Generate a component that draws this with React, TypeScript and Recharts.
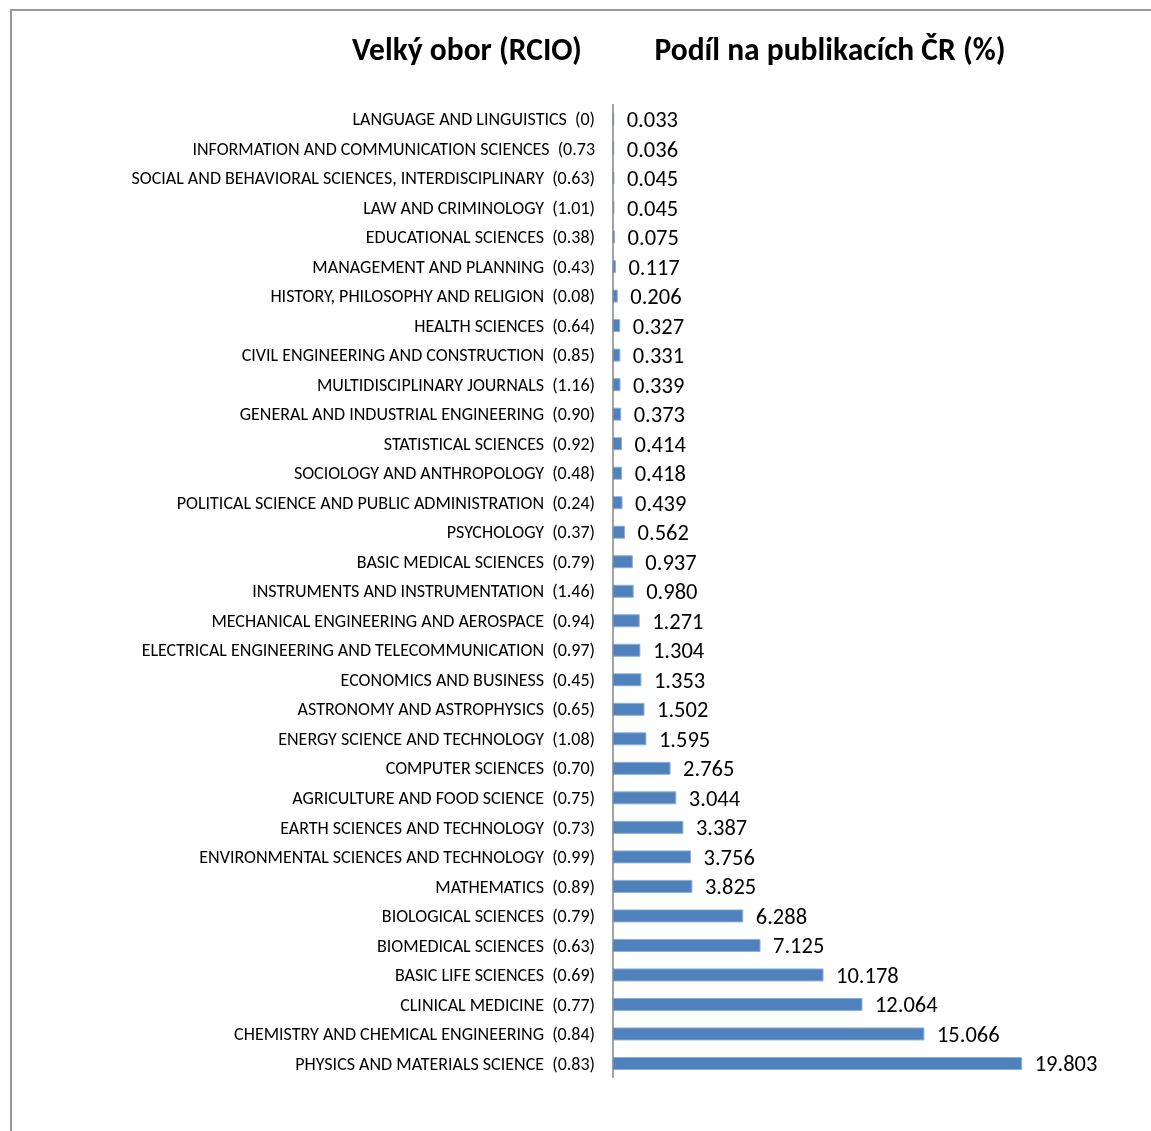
import { BarChart, Bar, XAxis, YAxis, LabelList } from 'recharts';

// double gap before the bracket is kept with a no-break space
const fields = [
  'LANGUAGE AND LINGUISTICS\u00a0\u00a0(0)',
  'INFORMATION AND COMMUNICATION SCIENCES\u00a0\u00a0(0.73',
  'SOCIAL AND BEHAVIORAL SCIENCES, INTERDISCIPLINARY\u00a0\u00a0(0.63)',
  'LAW AND CRIMINOLOGY\u00a0\u00a0(1.01)',
  'EDUCATIONAL SCIENCES\u00a0\u00a0(0.38)',
  'MANAGEMENT AND PLANNING\u00a0\u00a0(0.43)',
  'HISTORY, PHILOSOPHY AND RELIGION\u00a0\u00a0(0.08)',
  'HEALTH SCIENCES\u00a0\u00a0(0.64)',
  'CIVIL ENGINEERING AND CONSTRUCTION\u00a0\u00a0(0.85)',
  'MULTIDISCIPLINARY JOURNALS\u00a0\u00a0(1.16)',
  'GENERAL AND INDUSTRIAL ENGINEERING\u00a0\u00a0(0.90)',
  'STATISTICAL SCIENCES\u00a0\u00a0(0.92)',
  'SOCIOLOGY AND ANTHROPOLOGY\u00a0\u00a0(0.48)',
  'POLITICAL SCIENCE AND PUBLIC ADMINISTRATION\u00a0\u00a0(0.24)',
  'PSYCHOLOGY\u00a0\u00a0(0.37)',
  'BASIC MEDICAL SCIENCES\u00a0\u00a0(0.79)',
  'INSTRUMENTS AND INSTRUMENTATION\u00a0\u00a0(1.46)',
  'MECHANICAL ENGINEERING AND AEROSPACE\u00a0\u00a0(0.94)',
  'ELECTRICAL ENGINEERING AND TELECOMMUNICATION\u00a0\u00a0(0.97)',
  'ECONOMICS AND BUSINESS\u00a0\u00a0(0.45)',
  'ASTRONOMY AND ASTROPHYSICS\u00a0\u00a0(0.65)',
  'ENERGY SCIENCE AND TECHNOLOGY\u00a0\u00a0(1.08)',
  'COMPUTER SCIENCES\u00a0\u00a0(0.70)',
  'AGRICULTURE AND FOOD SCIENCE\u00a0\u00a0(0.75)',
  'EARTH SCIENCES AND TECHNOLOGY\u00a0\u00a0(0.73)',
  'ENVIRONMENTAL SCIENCES AND TECHNOLOGY\u00a0\u00a0(0.99)',
  'MATHEMATICS\u00a0\u00a0(0.89)',
  'BIOLOGICAL SCIENCES\u00a0\u00a0(0.79)',
  'BIOMEDICAL SCIENCES\u00a0\u00a0(0.63)',
  'BASIC LIFE SCIENCES\u00a0\u00a0(0.69)',
  'CLINICAL MEDICINE\u00a0\u00a0(0.77)',
  'CHEMISTRY AND CHEMICAL ENGINEERING\u00a0\u00a0(0.84)',
  'PHYSICS AND MATERIALS SCIENCE\u00a0\u00a0(0.83)',
];

const shares = [
  0.033, 0.036, 0.045, 0.045, 0.075, 0.117, 0.206, 0.327, 0.331, 0.339, 0.373,
  0.414, 0.418, 0.439, 0.562, 0.937, 0.98, 1.271, 1.304, 1.353, 1.502, 1.595,
  2.765, 3.044, 3.387, 3.756, 3.825, 6.288, 7.125, 10.178, 12.064, 15.066, 19.803,
];

const data = fields.map((name, i) => ({ name, share: shares[i] }));

const font = "Carlito, 'Open Sans', sans-serif";

const titleStyle = {
  position: 'absolute' as const,
  top: 22,
  textAlign: 'center' as const,
  fontWeight: 700,
  fontSize: 31.5,
  color: '#000',
  whiteSpace: 'nowrap' as const,
};

export default function App() {
  return (
    <div style={{ position: 'relative', width: 1143, height: 1100, fontFamily: font }}>
      {/* frame */}
      <div
        style={{
          position: 'fixed',
          left: 10,
          top: 9,
          right: 0,
          bottom: 0,
          borderTop: '2px solid #9a9a9a',
          borderLeft: '2px solid #9a9a9a',
        }}
      />
      <div style={{ ...titleStyle, left: 467 - 8 - 150, width: 300 }}>Velký obor (RCIO)</div>
      <div style={{ ...titleStyle, left: 830 - 8 - 220, width: 440 }}>Podíl na publikacích ČR (%)</div>
      <BarChart
        width={1143}
        height={1100}
        data={data}
        layout="vertical"
        margin={{ top: 96, right: 84, bottom: 30, left: 0 }}
        barSize={12}
      >
        <XAxis type="number" domain={[0, 22]} hide />
        <YAxis
          type="category"
          dataKey="name"
          width={605}
          interval={0}
          tickLine={false}
          tickSize={0}
          tickMargin={18}
          axisLine={{ stroke: '#868686', strokeWidth: 1.5 }}
          tick={{ fill: '#000', fontSize: 18, fontFamily: font }}
        />
        <Bar dataKey="share" fill="#4f81bd" stroke="#8db0dc" strokeWidth={1} isAnimationActive={false}>
          <LabelList
            dataKey="share"
            position="right"
            offset={13}
            formatter={(v: number) => v.toFixed(3)}
            style={{ fill: '#000', fontSize: 22.5, fontFamily: font }}
          />
        </Bar>
      </BarChart>
    </div>
  );
}
